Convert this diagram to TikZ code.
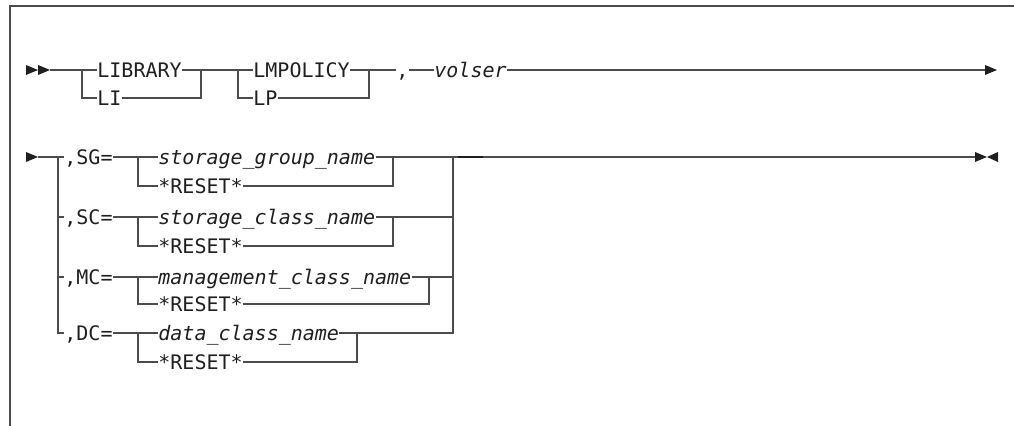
\documentclass[tikz,border=0pt]{standalone}
\usepackage{fontspec}
\setmonofont{DejaVu Sans Mono}
\definecolor{railgray}{rgb}{0.30,0.30,0.30}
\definecolor{railtext}{rgb}{0.12,0.12,0.12}
\tikzset{
  rail/.style={line width=0.6pt, draw=railgray},
  kw/.style={anchor=west, inner sep=0pt, text height=7.3pt, text depth=0pt,
    font=\fontsize{10}{12}\selectfont\ttfamily, text=railtext},
  var/.style={kw, font=\fontsize{10}{12}\selectfont\ttfamily\itshape},
  tip/.style={fill=railtext, draw=none}
}
\begin{document}
\begin{tikzpicture}[x=0.5pt,y=-0.5pt]
\useasboundingbox (0,0) rectangle (1014,426);

% Drawing frame
\draw [line width=0.75pt, draw=railgray] (1014,6) -- (10,6) -- (10,426);%

% Drawing first line
\fill [tip] (26,65) -- (38,70) -- (26,75) -- cycle;%
\fill [tip] (38,65) -- (50,70) -- (38,75) -- cycle;%
\coordinate (s1) at (50,70);%
\coordinate (t1) at (82,70);%
\coordinate (j1) at (201,70);%
\coordinate (t2) at (238,70);%
\coordinate (j2) at (369,70);%
\coordinate (e1) at (985,70);%
\node [kw] (library) at (97,70) {LIBRARY};%
\node [kw] (li) at (97,98) {LI};%
\node [kw] (lmpolicy) at (253,70) {LMPOLICY};%
\node [kw] (lp) at (253,98) {LP};%
\node [kw] (comma) at (396,70) {,};%
\node [var] (volser) at (434,70) {volser};%
\draw [rail] (s1) -- (library.west);%
\draw [rail] (t1) |- (li.west);%
\draw [rail] (li.east) -| (j1);%
\draw [rail] (library.east) -- (lmpolicy.west);%
\draw [rail] (t2) |- (lp.west);%
\draw [rail] (lp.east) -| (j2);%
\draw [rail] (lmpolicy.east) -- (comma.west);%
\draw [rail] (comma.east) -- (volser.west);%
\draw [rail] (volser.east) -- (e1);%
\fill [tip] (985,65) -- (997,70) -- (985,75) -- cycle;%

% Drawing second line
\fill [tip] (26,152) -- (38,157) -- (26,162) -- cycle;%
\coordinate (s2) at (38,157);%
\coordinate (b2) at (58,157);%
\node [kw] (sg) at (64,157) {,SG=};%
\node [kw] (sc) at (64,217) {,SC=};%
\node [kw] (mc) at (64,277) {,MC=};%
\node [kw] (dc) at (64,333) {,DC=};%
\draw [rail] (s2) -- (sg.west);%
\draw [rail] (b2) |- (dc.west);%
\draw [rail] (b2 |- sc.west) -- (sc.west);%
\draw [rail] (b2 |- mc.west) -- (mc.west);%

% Storage group
\coordinate (sgtee) at (138,157);%
\coordinate (sgjoin) at (393,157);%
\node [var] (sgname) at (158,157) {storage\_group\_name};%
\node [kw] (sgreset) at (158,186) {*RESET*};%
\draw [rail] (sg.east) -- (sgname.west);%
\draw [rail] (sgtee) |- (sgreset.west);%
\draw [rail] (sgreset.east) -| (sgjoin) -- (sgname.east);%

% Storage class
\coordinate (sctee) at (138,217);%
\coordinate (scjoin) at (393,217);%
\node [var] (scname) at (158,217) {storage\_class\_name};%
\node [kw] (screset) at (158,246) {*RESET*};%
\draw [rail] (sc.east) -- (scname.west);%
\draw [rail] (sctee) |- (screset.west);%
\draw [rail] (screset.east) -| (scjoin) -- (scname.east);%

% Management class
\coordinate (mctee) at (138,277);%
\coordinate (mcjoin) at (429,277);%
\node [var] (mcname) at (158,277) {management\_class\_name};%
\node [kw] (mcreset) at (158,304) {*RESET*};%
\draw [rail] (mc.east) -- (mcname.west);%
\draw [rail] (mctee) |- (mcreset.west);%
\draw [rail] (mcreset.east) -| (mcjoin) -- (mcname.east);%

% Data class
\coordinate (dctee) at (138,333);%
\coordinate (dcjoin) at (357,333);%
\node [var] (dcname) at (158,333) {data\_class\_name};%
\node [kw] (dcreset) at (158,362) {*RESET*};%
\draw [rail] (dc.east) -- (dcname.west);%
\draw [rail] (dctee) |- (dcreset.west);%
\draw [rail] (dcreset.east) -| (dcjoin) -- (dcname.east);%

% Joining the choices
\coordinate (rj) at (453,157);%
\coordinate (e2) at (975,157);%
\draw [rail] (sgjoin) -- (e2);%
\draw [rail] (rj) |- (dcjoin);%
\draw [rail] (scjoin) -- (scjoin -| rj);%
\draw [rail] (mcjoin) -- (mcjoin -| rj);%
\draw [line width=1pt, draw=railtext] (458,157) -- (483,157);%
\fill [tip] (975,152) -- (987,157) -- (975,162) -- cycle;%
\fill [tip] (998,152) -- (987,157) -- (998,162) -- cycle;%
\end{tikzpicture}
\end{document}
